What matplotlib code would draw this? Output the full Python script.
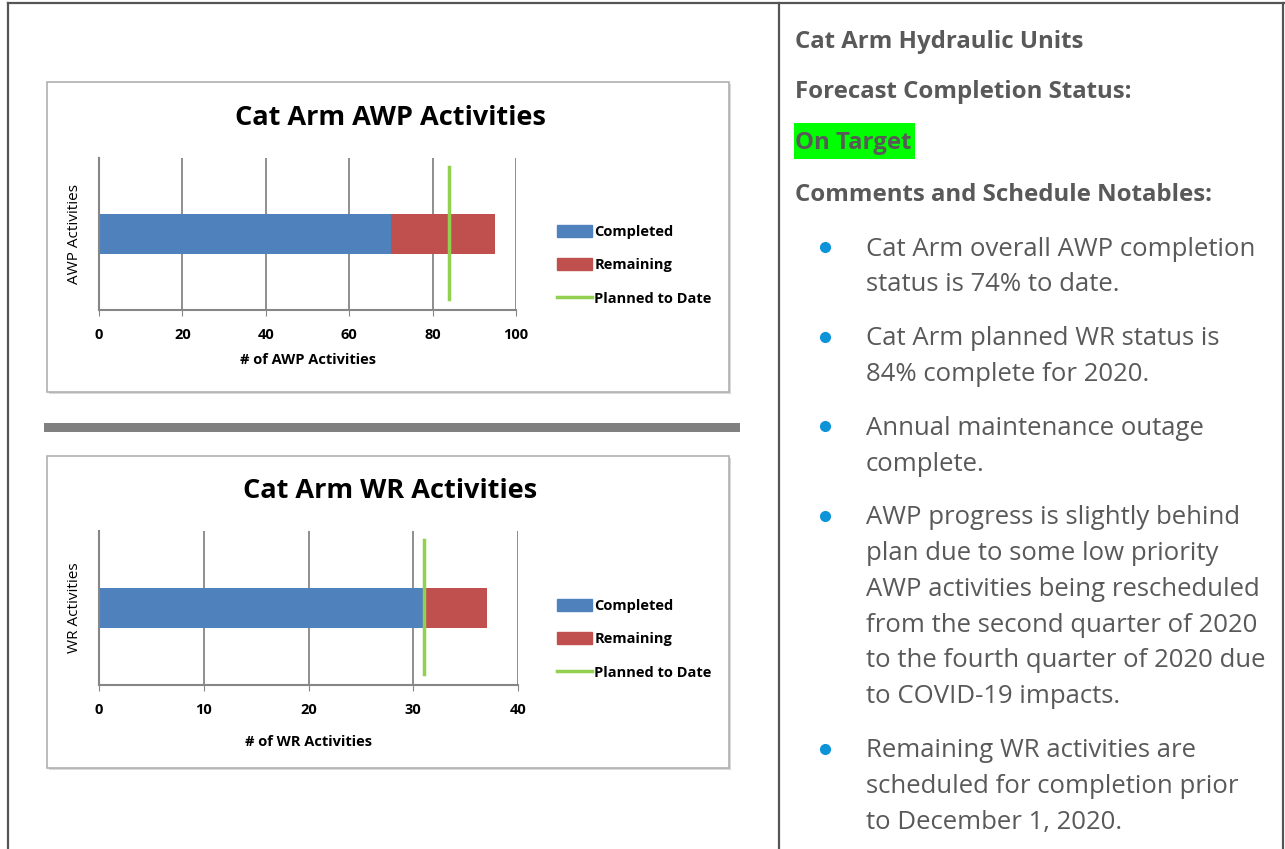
import matplotlib
matplotlib.use("Agg")
import matplotlib.pyplot as plt
from matplotlib.patches import Rectangle, Patch
from matplotlib.lines import Line2D

W, H = 1285, 849

# chart data
awp_completed = [70]
awp_remaining = [25]
awp_planned = 84
awp_ticks = [0, 20, 40, 60, 80, 100]

wr_completed = [31]
wr_remaining = [6]
wr_planned = 31
wr_ticks = [0, 10, 20, 30, 40]

series_names = ["Completed", "Remaining", "Planned to Date"]

header_lines = ["Cat Arm Hydraulic Units", "Forecast Completion Status:"]
status_text = "On Target"
notes_header = "Comments and Schedule Notables:"
bullets = [
    ["Cat Arm overall AWP completion", "status is 74% to date."],
    ["Cat Arm planned WR status is", "84% complete for 2020."],
    ["Annual maintenance outage", "complete."],
    ["AWP progress is slightly behind", "plan due to some low priority",
     "AWP activities being rescheduled", "from the second quarter of 2020",
     "to the fourth quarter of 2020 due", "to COVID-19 impacts."],
    ["Remaining WR activities are", "scheduled for completion prior",
     "to December 1, 2020."],
]

BLUE = "#4f81bd"
RED = "#c0504d"
GREEN = "#92d050"
TEXT = "#595959"
FONT = "Open Sans"


def fig_box(x0, y0, x1, y1):
    # pixel box (top-left origin) -> figure fraction rect
    return [x0 / W, 1 - y1 / H, (x1 - x0) / W, (y1 - y0) / H]


fig = plt.figure(figsize=(W / 100, H / 100), dpi=100)

bg = fig.add_axes([0, 0, 1, 1])
bg.set_xlim(0, W)
bg.set_ylim(H, 0)
bg.axis("off")

# page frame
frame = "#555555"
bg.plot([8, 8], [3, H], color=frame, lw=1.6)
bg.plot([8, W], [3, 3], color=frame, lw=1.6)
bg.plot([779, 779], [3, H], color=frame, lw=1.6)
bg.plot([1283, 1283], [3, H], color=frame, lw=1.6)

# chart boxes and separator
for y0, y1 in [(82, 392), (456, 768)]:
    bg.add_patch(Rectangle((49, y0 + 2), 682, y1 - y0, facecolor="#d9d9d9",
                           edgecolor="none", zorder=1))
    bg.add_patch(Rectangle((47, y0), 682, y1 - y0, facecolor="white",
                           edgecolor="#b0b0b0", lw=1.2, zorder=2))
bg.add_patch(Rectangle((44, 423), 696, 9, facecolor="#808080",
                       edgecolor="none"))


def draw_chart(plot_box, title, title_y, ylabel, xlabel, completed, remaining,
               planned, ticks, legend_xy, xlabel_pad):
    ax = fig.add_axes(fig_box(*plot_box))
    ax.set_xlim(ticks[0], ticks[-1])
    ax.set_ylim(0, 1)
    ax.barh([0.5], completed, height=0.26, color=BLUE)
    ax.barh([0.5], remaining, left=completed, height=0.26, color=RED)
    ax.plot([planned, planned], [0.07, 0.94], color=GREEN, lw=2.5)
    ax.set_xticks(ticks)
    ax.set_yticks([])
    ax.grid(axis="x", color="#868686", lw=1.3)
    ax.set_axisbelow(True)
    for s in ["top", "right"]:
        ax.spines[s].set_visible(False)
    for s in ["left", "bottom"]:
        ax.spines[s].set_color("#868686")
        ax.spines[s].set_linewidth(1.5)
    ax.tick_params(axis="x", length=4, color="#868686", pad=9)
    for lab in ax.get_xticklabels():
        lab.set_fontfamily(FONT)
        lab.set_fontweight("bold")
        lab.set_fontsize(10.5)
    ax.set_xlabel(xlabel, fontfamily=FONT, fontweight="bold", fontsize=10.5,
                  labelpad=xlabel_pad)
    ax.set_ylabel(ylabel, fontfamily=FONT, fontsize=11, labelpad=12)
    fig.text(390 / W, 1 - title_y / H, title, ha="center", va="center",
             fontfamily=FONT, fontweight="bold", fontsize=19.5)
    handles = [Patch(color=BLUE), Patch(color=RED),
               Line2D([], [], color=GREEN, lw=2.5)]
    fig.legend(handles, series_names, loc="upper left",
               bbox_to_anchor=(legend_xy[0] / W, 1 - legend_xy[1] / H),
               frameon=False, prop={"family": FONT, "size": 10.5,
                                    "weight": "bold"},
               handlelength=2.4, handleheight=0.9, handletextpad=0.15,
               labelspacing=1.32, borderpad=0, borderaxespad=0)
    return ax


draw_chart((99, 158, 516, 310), "Cat Arm AWP Activities", 118,
           "AWP Activities", "# of AWP Activities", awp_completed,
           awp_remaining, awp_planned, awp_ticks, (557, 225), 8)
draw_chart((99, 531, 518, 685), "Cat Arm WR Activities", 491,
           "WR Activities", "# of WR Activities", wr_completed,
           wr_remaining, wr_planned, wr_ticks, (557, 599), 13)

# right column text
for text, y in zip(header_lines, [42, 92]):
    bg.text(795, y, text, ha="left", va="center", fontfamily=FONT,
            fontweight="bold", fontsize=17.3, color=TEXT)
bg.add_patch(Rectangle((794, 123), 121, 36, facecolor="#00ff00",
                       edgecolor="none"))
bg.text(795, 143, status_text, ha="left", va="center", fontfamily=FONT,
        fontweight="bold", fontsize=17.3, color=TEXT)
bg.text(795, 195, notes_header, ha="left", va="center", fontfamily=FONT,
        fontweight="bold", fontsize=17.3, color=TEXT)

line_gap = 35.8
y = 249
for item in bullets:
    bg.plot([825], [y - 2], marker="o", ms=7, color="#0d93d8", lw=0)
    for line in item:
        bg.text(866, y, line, ha="left", va="center", fontfamily=FONT,
                fontsize=18.5, color=TEXT)
        y += line_gap
    y += 18

fig.savefig("out.png", dpi=100)
